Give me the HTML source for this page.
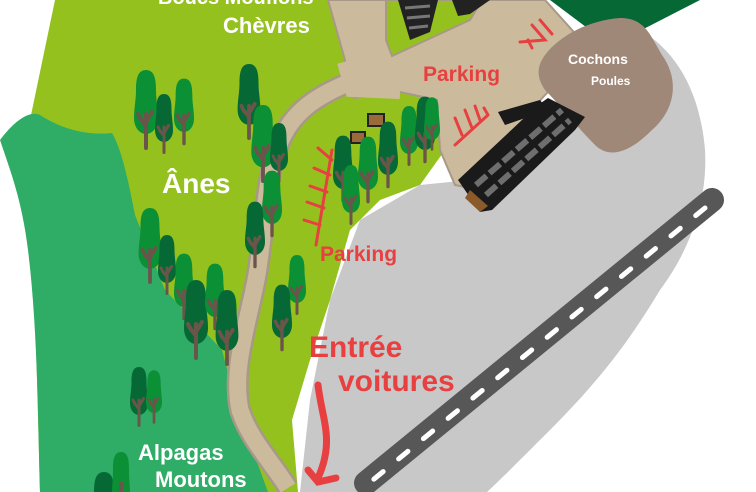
<!DOCTYPE html>
<html><head><meta charset="utf-8"><style>
html,body{margin:0;padding:0;background:#fff;width:756px;height:492px;overflow:hidden;}
svg{display:block;}
text{font-family:"Liberation Sans",sans-serif;font-weight:bold;}
</style></head><body>
<svg width="756" height="492" viewBox="0 0 756 492" xmlns="http://www.w3.org/2000/svg" overflow="hidden">
<defs>
<symbol id="ta" viewBox="0 0 24 80" overflow="visible">
<path d="M12,0 C20,0 22,8 22,20 C22,30 24,38 24,48 C24,58 18,64 12,64 C6,64 0,58 0,48 C0,38 2,30 2,20 C2,8 4,0 12,0Z" fill="#0b9035"/>
<path d="M12,78 L12,44 M12,56 L6,48 M12,52 L18,42 M7,50 L4,44" stroke="#6b554a" stroke-width="4" fill="none" stroke-linecap="round"/>
</symbol>
<symbol id="tb" viewBox="0 0 24 80" overflow="visible">
<path d="M12,0 C20,0 22,8 22,20 C22,30 24,38 24,48 C24,58 18,64 12,64 C6,64 0,58 0,48 C0,38 2,30 2,20 C2,8 4,0 12,0Z" fill="#066835"/>
<path d="M12,78 L12,44 M12,56 L6,48 M12,52 L18,42 M7,50 L4,44" stroke="#6b554a" stroke-width="4" fill="none" stroke-linecap="round"/>
</symbol>
<clipPath id="frame"><rect x="0" y="0" width="756" height="492"/></clipPath>
</defs>
<g clip-path="url(#frame)">
<path d="M300,492 L310,400 L330,300 L360,220 L420,185 L470,180 L540,120 L640,30 C675,50 700,90 705,150 C708,200 690,250 660,290 C630,340 600,380 550,430 C520,460 500,480 487,492 Z" fill="#c8c8c8"/>
<path d="M55,0 L400,0 L440,95 L445,150 L420,185 L380,200 L350,230 L330,300 L310,360 L292,420 L298,492 L40,492 L30,120 Z" fill="#95c11f"/>
<path d="M0,140 C15,120 30,110 40,115 C60,128 85,136 112,133 C122,150 128,180 135,215 L165,290 L222,350 L238,410 L268,492 L40,492 C38,430 38,330 28,250 C22,200 10,170 0,140 Z" fill="#2fac66"/>
<path d="M328,0 L545,0 L590,50 L545,95 L505,140 L470,188 L455,185 L440,150 L437,100 L400,92 L355,98 L340,85 L345,60 Z" fill="#cbbb9c" stroke="#a89888" stroke-width="2"/>
<path d="M350,82 C320,95 290,110 277,150 C264,185 264,240 256,280 C246,330 232,370 240,410 C250,440 272,462 288,488" fill="none" stroke="#a89888" stroke-width="22"/>
<path d="M350,82 C320,95 290,110 277,150 C264,185 264,240 256,280 C246,330 232,370 240,410 C250,440 272,462 288,488" fill="none" stroke="#cbbb9c" stroke-width="17"/>
<path d="M344,62 L352,90 L400,92" fill="none" stroke="#cbbb9c" stroke-width="14"/>
<path d="M386,0 L482,0 L470,20 L392,56 L386,40 Z" fill="#95c11f" stroke="#a89888" stroke-width="2"/>
<path d="M398,0 L438,0 L430,32 L410,40 Z" fill="#222"/>
<path d="M452,0 L490,0 L470,14 L458,16 Z" fill="#222"/>
<path d="M405,8 L430,6 M407,18 L430,16 M409,28 L428,26" stroke="#777" stroke-width="3"/>
<path d="M550,0 L700,0 L630,36 L590,30 Z" fill="#066835"/>
<path d="M545,55 C560,35 590,20 620,18 C645,18 650,35 662,55 C680,80 675,110 652,130 C632,150 612,160 596,146 C575,125 560,105 545,90 C535,75 538,65 545,55 Z" fill="#a08878"/>
<path d="M712,200 L366,483" stroke="#575757" stroke-width="24" stroke-linecap="round"/>
<path d="M705,208 L368,484" stroke="#fff" stroke-width="5" stroke-dasharray="12 20" stroke-linecap="round"/>
<path d="M458,180 L538,105 L548,98 L585,117 L575,130 L492,210 L480,212 Z" fill="#1a1a1a"/>
<path d="M465,198 L480,212 L488,206 L470,190 Z" fill="#8b5a2b"/>
<path d="M476,185 L562,110 M486,195 L570,120" stroke="#6e6e6e" stroke-width="6" stroke-dasharray="14 4"/>
<path d="M498,112 L540,100 L548,110 L505,125 Z" fill="#1a1a1a"/>
<rect x="368" y="114" width="16" height="12" fill="#9a6a3a" stroke="#222" stroke-width="2"/>
<rect x="351" y="132" width="14" height="11" fill="#9a6a3a" stroke="#222" stroke-width="2"/>
<g stroke="#e84040" stroke-width="3" fill="none" stroke-linecap="round">
<path d="M455,145 L488,115 M455,118 L462,135 M465,110 L472,128 M475,106 L480,120 M484,108 L488,115"/>
<path d="M532,25 L545,40 L520,42 M540,20 L552,34 M528,40 L532,48"/>
<path d="M332,150 L316,245 M332,160 L318,148 M330,175 L314,168 M327,192 L310,186 M324,208 L307,202 M320,225 L304,220"/>
<path d="M318,385 C322,420 335,440 318,478 M308,470 L318,482 L336,478" stroke-width="7"/>
</g>
<use href="#ta" x="134" y="70" width="24" height="80"/>
<use href="#tb" x="155" y="88" width="18" height="72"/>
<use href="#ta" x="174" y="76" width="20" height="72"/>
<use href="#tb" x="237" y="64" width="24" height="76"/>
<use href="#ta" x="250" y="105" width="26" height="78"/>
<use href="#tb" x="270" y="118" width="18" height="70"/>
<use href="#ta" x="262" y="168" width="20" height="72"/>
<use href="#tb" x="245" y="200" width="20" height="70"/>
<use href="#ta" x="138" y="208" width="24" height="76"/>
<use href="#tb" x="158" y="228" width="18" height="74"/>
<use href="#ta" x="174" y="250" width="20" height="74"/>
<use href="#tb" x="183" y="280" width="26" height="80"/>
<use href="#ta" x="205" y="260" width="20" height="74"/>
<use href="#tb" x="214" y="290" width="26" height="76"/>
<use href="#ta" x="288" y="250" width="18" height="70"/>
<use href="#tb" x="272" y="282" width="20" height="72"/>
<use href="#tb" x="130" y="364" width="18" height="66"/>
<use href="#ta" x="146" y="364" width="16" height="66"/>
<path d="M104,472 C112,472 114,480 114,492 L94,492 C94,480 96,472 104,472Z" fill="#066835"/>
<path d="M121,452 C128,452 129,460 129,470 C129,480 130,486 130,492 L112,492 C112,486 113,480 113,470 C113,460 114,452 121,452Z" fill="#0b9035"/>
<path d="M121,482 L121,492" stroke="#6b554a" stroke-width="4"/>
<use href="#tb" x="333" y="132" width="20" height="74"/>
<use href="#ta" x="342" y="160" width="18" height="70"/>
<use href="#ta" x="358" y="135" width="20" height="70"/>
<use href="#tb" x="378" y="118" width="20" height="74"/>
<use href="#ta" x="400" y="100" width="18" height="72"/>
<use href="#tb" x="415" y="92" width="20" height="76"/>
<use href="#ta" x="424" y="88" width="16" height="72"/>
<text x="158" y="4" fill="#fff" font-size="20">Boucs Mouflons</text>
<text x="223" y="33" fill="#fff" font-size="22">Chèvres</text>
<text x="162" y="193" fill="#fff" font-size="28">Ânes</text>
<text x="138" y="460" fill="#fff" font-size="22">Alpagas</text>
<text x="155" y="487" fill="#fff" font-size="22">Moutons</text>
<text x="568" y="64" fill="#fff" font-size="14">Cochons</text>
<text x="591" y="85" fill="#fff" font-size="12">Poules</text>
<text x="423" y="81" fill="#e84040" font-size="21">Parking</text>
<text x="320" y="261" fill="#e84040" font-size="21">Parking</text>
<text x="309" y="357" fill="#e84040" font-size="30">Entrée</text>
<text x="338" y="391" fill="#e84040" font-size="30">voitures</text>
</g>
</svg>
</body></html>
